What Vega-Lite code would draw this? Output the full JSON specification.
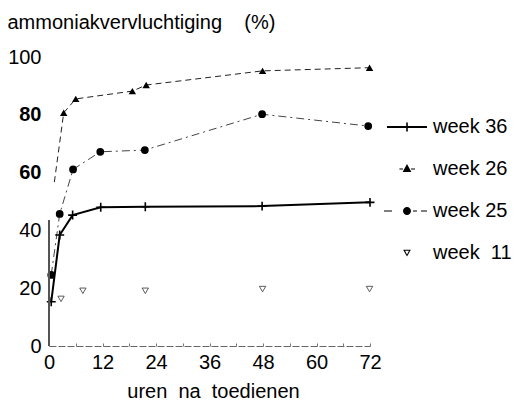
{
  "$schema": "https://vega.github.io/schema/vega-lite/v6.json",
  "width": 321,
  "height": 289,
  "autosize": {"type": "none"},
  "padding": {"left": 49, "top": 57, "right": 145, "bottom": 55},
  "background": "white",
  "config": {"font": "Liberation Sans", "view": {"stroke": null}},
  "data": {"values": [
    {"series": "week 36", "uren": 0.5, "pct": 15.3},
    {"series": "week 36", "uren": 2.4, "pct": 38.4},
    {"series": "week 36", "uren": 5.3, "pct": 45.3},
    {"series": "week 36", "uren": 11.6, "pct": 48.0},
    {"series": "week 36", "uren": 21.6, "pct": 48.2},
    {"series": "week 36", "uren": 47.8, "pct": 48.4},
    {"series": "week 36", "uren": 72, "pct": 49.7},
    {"series": "week 26", "uren": 1.2, "pct": 56.7},
    {"series": "week 26", "uren": 3.3, "pct": 80.7},
    {"series": "week 26", "uren": 6.0, "pct": 85.5},
    {"series": "week 26", "uren": 18.7, "pct": 88.2},
    {"series": "week 26", "uren": 21.8, "pct": 90.3},
    {"series": "week 26", "uren": 47.9, "pct": 95.2},
    {"series": "week 26", "uren": 71.9, "pct": 96.3},
    {"series": "week 25", "uren": 0.5, "pct": 24.6},
    {"series": "week 25", "uren": 2.4, "pct": 45.7},
    {"series": "week 25", "uren": 5.4, "pct": 61.1},
    {"series": "week 25", "uren": 11.5, "pct": 67.2},
    {"series": "week 25", "uren": 21.5, "pct": 67.8},
    {"series": "week 25", "uren": 47.8, "pct": 80.2},
    {"series": "week 25", "uren": 71.6, "pct": 76.1},
    {"series": "week 11", "uren": 2.7, "pct": 16.3},
    {"series": "week 11", "uren": 7.6, "pct": 19.1},
    {"series": "week 11", "uren": 21.6, "pct": 19.1},
    {"series": "week 11", "uren": 47.9, "pct": 19.7},
    {"series": "week 11", "uren": 71.9, "pct": 19.7}
  ]},
  "encoding": {
    "x": {
      "field": "uren", "type": "quantitative",
      "scale": {"domain": [0, 72], "nice": false},
      "axis": {
        "values": [0, 6, 12, 18, 24, 30, 36, 42, 48, 54, 60, 66, 72],
        "labelExpr": "datum.value % 12 == 0 ? datum.label : ''",
        "labelFlush": false,
        "labelOverlap": false,
        "grid": false,
        "domainColor": "#666",
        "domainWidth": 1,
        "domainDash": [7, 2],
        "tickSize": -3,
        "tickColor": "#777",
        "labelFontSize": 20,
        "labelColor": "black",
        "labelPadding": 9,
        "title": "uren\u00a0 na\u00a0 toedienen",
        "titleFontSize": 20,
        "titleFontWeight": "normal",
        "titleColor": "black",
        "titleX": 164,
        "titleY": 51,
        "titleBaseline": "alphabetic",
        "titleAlign": "center"
      }
    },
    "y": {
      "field": "pct", "type": "quantitative",
      "scale": {"domain": [0, 100], "nice": false},
      "axis": {
        "values": [0, 20, 40, 60, 80, 100],
        "grid": false,
        "domain": false,
        "ticks": false,
        "labelFontSize": 20,
        "labelColor": "black",
        "labelPadding": 8,
        "labelFontWeight": {"condition": {"test": "datum.value == 80 || datum.value == 60", "value": "bold"}, "value": "normal"},
        "title": "ammoniakvervluchtiging\u00a0\u00a0\u00a0 (%)",
        "titleFontSize": 20,
        "titleFontWeight": "normal",
        "titleColor": "black",
        "titleAngle": 0,
        "titleAlign": "left",
        "titleBaseline": "alphabetic",
        "titleX": -42,
        "titleY": -29
      }
    }
  },
  "layer": [
    {
      "transform": [{"filter": "datum.series == 'week 36'"}],
      "mark": {"type": "line", "color": "black", "strokeWidth": 2}
    },
    {
      "transform": [{"filter": "datum.series == 'week 26'"}],
      "mark": {"type": "line", "color": "#222", "strokeWidth": 1, "strokeDash": [6, 4]}
    },
    {
      "transform": [{"filter": "datum.series == 'week 25'"}],
      "mark": {"type": "line", "color": "#444", "strokeWidth": 1, "strokeDash": [8, 4, 2, 4]}
    },
    {
      "transform": [{"filter": "datum.series == 'week 36'"}],
      "mark": {"type": "point", "shape": "M-1,0H1M0,-1V1", "size": 80, "filled": false, "color": "black", "strokeWidth": 1.6, "opacity": 1}
    },
    {
      "transform": [{"filter": "datum.series == 'week 26' && datum.uren > 2"}],
      "mark": {"type": "point", "shape": "triangle-up", "size": 55, "filled": true, "color": "black", "opacity": 1}
    },
    {
      "transform": [{"filter": "datum.series == 'week 25'"}],
      "mark": {"type": "point", "shape": "circle", "size": 60, "filled": true, "color": "black", "opacity": 1}
    },
    {
      "transform": [{"filter": "datum.series == 'week 11'"}],
      "mark": {"type": "point", "shape": "triangle-down", "size": 40, "filled": false, "color": "#333", "strokeWidth": 0.8, "opacity": 1}
    },
    {
      "mark": {"type": "rule", "color": "#555", "strokeWidth": 1},
      "encoding": {
        "x": {"datum": 0, "type": "quantitative"},
        "y": {"datum": 0, "type": "quantitative"},
        "y2": {"datum": 43.5}
      }
    },
    {
      "transform": [{"filter": "false"}],
      "mark": {"type": "point", "filled": true, "color": "black", "opacity": 1},
      "encoding": {
        "shape": {
          "field": "series", "type": "nominal",
          "scale": {
            "domain": ["week 36", "week 26", "week 25", "week 11"],
            "range": [
              "M-1,-0.045H1V0.045H-1ZM-0.04,-0.22H0.04V0.22H-0.04Z",
              "M-0.38,-0.025H-0.2V0.025H-0.38ZM0.2,-0.025H0.4V0.025H0.2ZM0,-0.25L0.22,0.15L-0.22,0.15Z",
              "M-1.15,-0.025H-0.75V0.025H-1.15ZM0.3,-0.025H0.5V0.025H0.3ZM0.7,-0.025H1V0.025H0.7ZM0.2,0A0.2,0.2 0 1,1 -0.2,0A0.2,0.2 0 1,1 0.2,0Z",
              "M-0.19,-0.16L0.19,-0.16L0,0.18ZM-0.1,-0.11L0,0.08L0.1,-0.11Z"
            ]
          },
          "legend": {
            "title": null,
            "orient": "none",
            "legendX": 337,
            "legendY": 49,
            "padding": 0,
            "symbolSize": 1600,
            "symbolOpacity": 1,
            "labelFontSize": 20,
            "labelColor": "black",
            "labelOffset": 5,
            "rowPadding": 11,
            "labelExpr": "datum.label == 'week 11' ? 'week\u00a0 11' : datum.label"
          }
        }
      }
    }
  ]
}
